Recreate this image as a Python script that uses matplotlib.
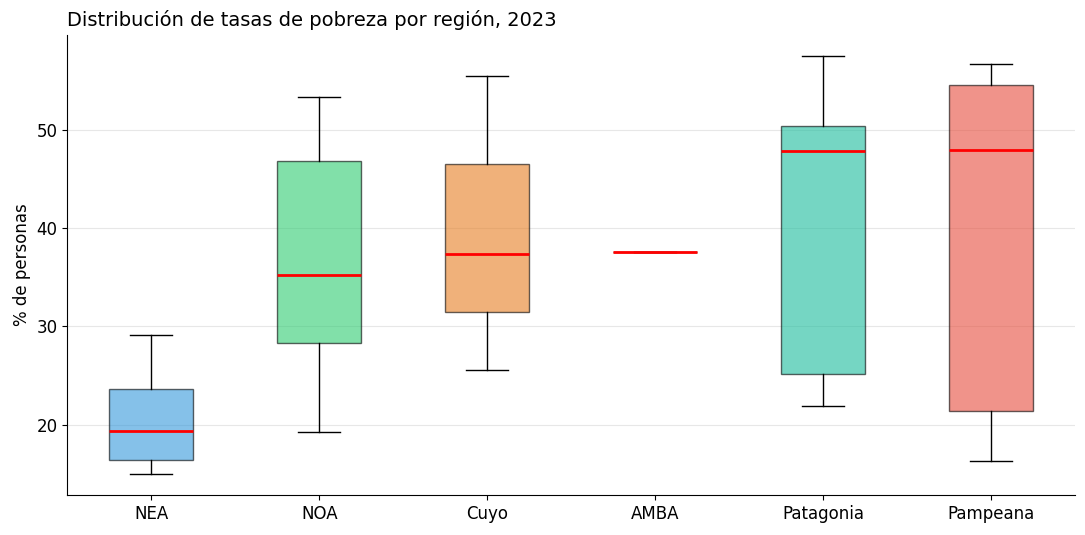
import matplotlib
matplotlib.use("Agg")
import matplotlib.pyplot as plt

regiones = ["NEA", "NOA", "Cuyo", "AMBA", "Patagonia", "Pampeana"]
whislo = [15.0, 19.3, 25.6, 37.6, 21.9, 16.3]
q1 = [16.45, 28.35, 31.5, 37.6, 25.2, 21.4]
med = [19.4, 35.25, 37.4, 37.6, 47.85, 47.95]
q3 = [23.65, 46.85, 46.45, 37.6, 50.4, 54.55]
whishi = [29.15, 53.35, 55.4, 37.6, 57.5, 56.7]
colores = ["#3498DB", "#2ECC71", "#E67E22", "#9B59B6", "#1ABC9C", "#E74C3C"]

stats = []
for i in range(len(regiones)):
    stats.append({"label": regiones[i], "whislo": whislo[i], "q1": q1[i],
                  "med": med[i], "q3": q3[i], "whishi": whishi[i], "fliers": []})

fig, ax = plt.subplots(figsize=(10.85, 5.35), dpi=100)
bp = ax.bxp(stats, patch_artist=True, widths=0.5, showfliers=False,
            medianprops=dict(color="red", linewidth=2),
            boxprops=dict(edgecolor="black", linewidth=1),
            whiskerprops=dict(color="black", linewidth=1),
            capprops=dict(color="black", linewidth=1))
for patch, c in zip(bp["boxes"], colores):
    patch.set_facecolor(c)
    patch.set_alpha(0.6)

ax.set_title("Distribución de tasas de pobreza por región, 2023", loc="left", fontsize=14)
ax.set_ylabel("% de personas", fontsize=12)
ax.tick_params(labelsize=12)
ax.grid(axis="y", alpha=0.3)
ax.set_axisbelow(True)
ax.spines["top"].set_visible(False)
ax.spines["right"].set_visible(False)

fig.subplots_adjust(left=0.062, right=0.991, top=0.935, bottom=0.075)
fig.savefig("out.png")
